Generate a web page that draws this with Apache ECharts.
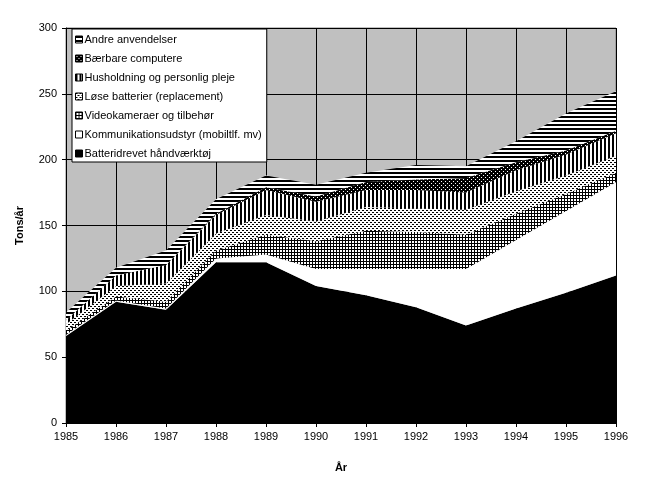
<!DOCTYPE html>
<html>
<head>
<meta charset="utf-8">
<script src="https://cdn.jsdelivr.net/npm/echarts@6/dist/echarts.min.js"></script>
<style>
html,body{margin:0;padding:0;background:#fff;}
#c{width:652px;height:488px;}
</style>
</head>
<body>
<div id="c"></div>
<script>
const years = ['1985','1986','1987','1988','1989','1990','1991','1992','1993','1994','1995','1996'];
const haandvaerktoej = [66, 92, 86, 122, 122, 104, 97, 88, 74, 87, 99, 112];
const kommunikation  = [1, 1, 1, 3, 6, 13, 20, 29, 43, 52, 62, 71];
const videokameraer  = [3, 3, 5, 6, 15, 21, 29, 28, 26, 20, 13, 7];
const loeseBatterier = [5, 8, 14, 13, 15, 15, 18, 18, 19, 17, 14, 13];
const husholdning    = [3, 8, 14, 14, 19, 15, 13, 14, 13, 16, 16, 17];
const baerbare       = [0, 0, 0, 1, 2, 4, 6, 8, 11, 6, 3, 2];
const andre          = [6, 6, 11, 11, 9, 9, 7, 11, 9, 16, 28, 30];
const yTicks = [0, 50, 100, 150, 200, 250, 300];

function pat(w, h, bg, draw) {
  const c = document.createElement('canvas');
  c.width = w; c.height = h;
  const ctx = c.getContext('2d');
  ctx.fillStyle = bg; ctx.fillRect(0, 0, w, h);
  draw(ctx);
  return { image: c, repeat: 'repeat' };
}
const P = {
  black: '#000000',
  white: '#ffffff',
  cross: pat(3, 3, '#fff', ctx => { ctx.fillStyle = '#000'; ctx.fillRect(0, 0, 3, 1); ctx.fillRect(0, 0, 1, 3); }),
  dots: pat(4, 4, '#fff', ctx => { ctx.fillStyle = '#000'; ctx.fillRect(0, 0, 2, 1); ctx.fillRect(2, 2, 2, 1); }),
  vstripe: pat(4, 4, '#fff', ctx => { ctx.fillStyle = '#000'; ctx.fillRect(0, 0, 2, 4); }),
  blackdots: pat(4, 4, '#000', ctx => { ctx.fillStyle = '#fff'; ctx.fillRect(1, 1, 1, 1); ctx.fillRect(3, 3, 1, 1); }),
  hstripe: pat(4, 4, '#fff', ctx => { ctx.fillStyle = '#000'; ctx.fillRect(0, 0, 4, 2); })
};

const seriesDefs = [
  { name: 'Batteridrevet håndværktøj', data: haandvaerktoej, fill: P.black },
  { name: 'Kommunikationsudstyr (mobiltlf. mv)', data: kommunikation, fill: P.white },
  { name: 'Videokameraer og tilbehør', data: videokameraer, fill: P.cross },
  { name: 'Løse batterier (replacement)', data: loeseBatterier, fill: P.dots },
  { name: 'Husholdning og personlig pleje', data: husholdning, fill: P.vstripe },
  { name: 'Bærbare computere', data: baerbare, fill: P.blackdots },
  { name: 'Andre anvendelser', data: andre, fill: P.hstripe }
];

const font = '"Liberation Sans", Arial, sans-serif';
const chart = echarts.init(document.getElementById('c'), null, { renderer: 'canvas' });
chart.setOption({
  animation: false,
  backgroundColor: '#ffffff',
  grid: { left: 66, right: 36, top: 28, bottom: 65, show: true, backgroundColor: '#c0c0c0', borderColor: '#808080', borderWidth: 1 },
  legend: {
    orient: 'vertical',
    left: 72, top: 29,
    padding: [4, 5, 2, 3],
    backgroundColor: '#ffffff',
    borderColor: '#000000', borderWidth: 1,
    icon: 'rect', itemWidth: 7, itemHeight: 7, itemGap: 6,
    itemStyle: { borderColor: '#000', borderWidth: 1 },
    textStyle: { fontFamily: font, fontSize: 11, color: '#000', lineHeight: 13, padding: [0, 0, 0, -3] },
    data: seriesDefs.slice().reverse().map(s => s.name)
  },
  xAxis: {
    type: 'category', data: years, boundaryGap: false,
    name: 'År', nameLocation: 'middle', nameGap: 39,
    nameTextStyle: { fontFamily: font, fontSize: 11, fontWeight: 'bold', color: '#000' },
    axisLine: { lineStyle: { color: '#000', width: 1 } },
    axisTick: { show: true, length: 4, lineStyle: { color: '#000' } },
    axisLabel: { fontFamily: font, fontSize: 11, color: '#000', margin: 8 },
    splitLine: { show: true, lineStyle: { color: '#000', width: 1 } }
  },
  yAxis: {
    type: 'value', min: yTicks[0], max: yTicks[yTicks.length - 1], interval: 50,
    name: 'Tons/år', nameLocation: 'middle', nameGap: 41, nameRotate: 90,
    nameTextStyle: { fontFamily: font, fontSize: 11, fontWeight: 'bold', color: '#000' },
    axisLine: { show: true, lineStyle: { color: '#000', width: 1 } },
    axisTick: { show: true, length: 4, lineStyle: { color: '#000' } },
    axisLabel: { fontFamily: font, fontSize: 11, color: '#000', margin: 9 },
    splitLine: { show: true, lineStyle: { color: '#000', width: 1 } }
  },
  series: seriesDefs.map(s => ({
    name: s.name, type: 'line', stack: 'total', data: s.data,
    symbol: 'none', smooth: false,
    lineStyle: { width: 0 },
    itemStyle: { color: s.fill },
    areaStyle: { color: s.fill, opacity: 1 }
  }))
});
</script>
</body>
</html>
